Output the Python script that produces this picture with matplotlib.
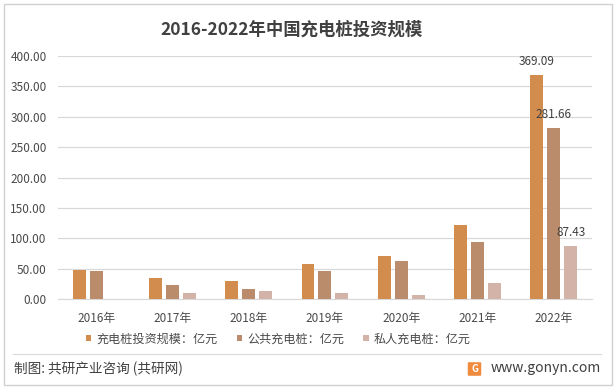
import numpy as np
import matplotlib.pyplot as plt
from matplotlib.patches import Rectangle, FancyBboxPatch
from matplotlib.lines import Line2D

plt.rcParams['font.family'] = ['Noto Sans CJK SC', 'DejaVu Sans']

# data
years = ['2016年', '2017年', '2018年', '2019年', '2020年', '2021年', '2022年']
invest = [48.2, 35.0, 30.0, 57.6, 70.7, 122.0, 369.09]
public = [46.5, 23.5, 17.0, 46.6, 63.0, 94.3, 281.66]
private = [0.0, 10.4, 13.7, 10.4, 7.0, 26.8, 87.43]
series_names = ['充电桩投资规模：亿元', '公共充电桩：亿元', '私人充电桩：亿元']
colors = ['#D28C4E', '#BA8C6C', '#D3B3A8']

fig = plt.figure(figsize=(6.16, 3.89), dpi=100)
ax = fig.add_axes([0.094, 0.231, 0.867, 0.625])

x = np.arange(len(years))
w = 0.17
step = 0.222
for i, vals in enumerate([invest, public, private]):
    ax.bar(x + (i - 1) * step, vals, w, color=colors[i], label=series_names[i], zorder=3)

# labels on the last group only
last = len(years) - 1
for i, vals in enumerate([invest, public, private]):
    ax.annotate('%.2f' % vals[last], (x[last] + (i - 1) * step, vals[last]),
                xytext=(0, 9.5), textcoords='offset points', ha='center', va='center',
                fontsize=8.5, color='#404040', zorder=4)

ax.set_ylim(0, 400)
ax.set_xlim(-0.5, len(years) - 0.5)
ax.set_yticks(np.arange(0, 401, 50))
ax.set_yticklabels(['%.2f' % v for v in np.arange(0, 401, 50)])
ax.set_xticks(x)
ax.set_xticklabels(years)
ax.tick_params(axis='both', length=0, labelsize=8.5, labelcolor='#4A4A4A')
ax.tick_params(axis='x', pad=9)
ax.tick_params(axis='y', pad=8)
ax.grid(axis='y', color='#D9D9D9', linewidth=0.9, zorder=0)
for s in ['left', 'right', 'top']:
    ax.spines[s].set_visible(False)
ax.spines['bottom'].set_color('#D9D9D9')

fig.text(292 / 616, 1 - 30 / 389, '2016-2022年中国充电桩投资规模', ha='center', va='center',
         fontsize=12.5, fontweight='bold', color='#404040')

ax.legend(loc='center left', bbox_to_anchor=(86 / 616, 1 - 339 / 389),
          bbox_transform=fig.transFigure, borderpad=0, borderaxespad=0,
          ncol=3, frameon=False, fontsize=8.7, labelcolor='#4A4A4A',
          handlelength=0.45, handleheight=0.45, handletextpad=0.4, columnspacing=1.6)

# frame and footer
fig.add_artist(Rectangle((4 / 616, 4 / 389), 608 / 616, 381 / 389, transform=fig.transFigure,
                         fill=False, edgecolor='#D0D0D0', linewidth=1))
fig.add_artist(Line2D([13 / 616, 601 / 616], [1 - 354 / 389, 1 - 354 / 389],
                      transform=fig.transFigure, color='#D9D9D9', linewidth=0.8))
fig.text(14 / 616, 1 - 369 / 389, '制图: 共研产业咨询 (共研网)', ha='left', va='center',
         fontsize=9.8, color='#404040')
fig.add_artist(FancyBboxPatch((469 / 616, 1 - 375 / 389), 11 / 616, 12 / 389,
                              boxstyle='round,pad=0.002', transform=fig.transFigure,
                              facecolor='#F08A3C', edgecolor='none'))
fig.text(474.5 / 616, 1 - 369 / 389, 'G', ha='center', va='center', fontsize=7,
         fontweight='bold', color='white')
fig.text(601 / 616, 1 - 368 / 389, 'www.gonyn.com', ha='right', va='center',
         fontsize=10, color='#404040')

fig.savefig('out.png', dpi=100)
